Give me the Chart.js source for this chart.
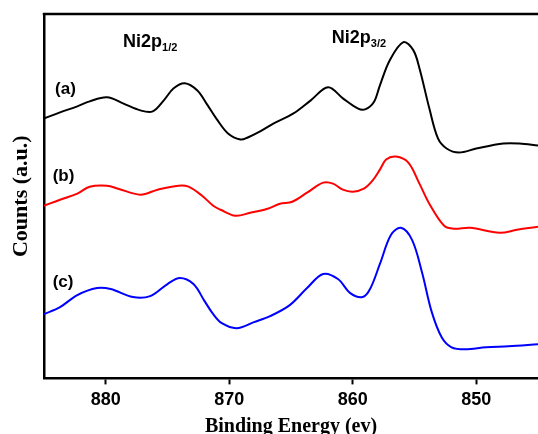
<!DOCTYPE html>
<html>
<head>
<meta charset="utf-8">
<script src="https://cdn.jsdelivr.net/npm/chart.js@4/dist/chart.umd.min.js"></script>
<style>
  html, body { margin: 0; padding: 0; background: #fff; }
  canvas { display: block; }
</style>
</head>
<body>
<canvas id="xps" width="538" height="434"></canvas>
<script>
// Ni 2p XPS spectra, binding energy in eV, intensity in arbitrary units (stacked)
const energyA = [885.0, 883.7, 882.3, 881.3, 879.9, 878.6, 877.2, 876.2, 875.3, 874.5, 873.6, 872.6, 871.8, 871.0, 870.1, 869.1, 868.5, 867.5, 866.4, 864.8, 863.4, 862.0, 860.8, 859.6, 859.0, 858.3, 857.8, 857.0, 855.9, 855.1, 854.6, 853.8, 853.1, 852.4, 851.4, 850.0, 847.8, 846.5, 845.0];
const countsA = [259, 265, 271, 276, 280, 274, 267, 266, 277, 289, 294, 287, 273, 258, 244, 238, 240, 246, 254, 264, 277, 290, 279, 269, 268, 275, 292, 317, 335, 327, 309, 269, 239, 229, 225, 229, 234, 234, 232];

const energyB = [885.0, 883.7, 882.3, 881.3, 879.9, 879.0, 877.2, 875.8, 874.1, 873.3, 872.2, 871.3, 870.7, 869.5, 868.3, 866.9, 865.9, 864.9, 863.7, 862.4, 861.6, 860.8, 860.0, 859.1, 858.4, 857.8, 857.3, 856.5, 855.5, 854.6, 853.8, 852.6, 851.8, 850.5, 848.1, 846.7, 845.0];
const countsB = [172, 178, 184, 191, 192, 189, 183, 188, 192, 191, 182, 172, 168, 162, 165, 169, 174, 176, 185, 195, 194, 188, 186, 189, 197, 208, 218, 221, 215, 194, 174, 152, 149, 150, 145, 148, 151];

const energyC = [885.0, 883.7, 882.3, 880.7, 879.6, 877.8, 876.4, 875.0, 874.0, 872.9, 872.0, 871.3, 870.6, 869.4, 868.0, 866.7, 865.1, 863.7, 862.4, 861.2, 860.2, 859.2, 858.6, 857.8, 856.9, 856.1, 855.2, 854.4, 853.6, 852.8, 852.0, 850.9, 849.2, 847.4, 845.0];
const countsC = [64, 71, 83, 90, 89, 81, 82, 94, 100, 94, 77, 64, 55, 50, 56, 62, 73, 90, 104, 99, 85, 81, 89, 114, 143, 150, 138, 106, 66, 41, 31, 29, 31, 32, 34];

const energyTicks = [880, 870, 860, 850];

// Curve tags and peak names, placed in data units
const curveTags = [
  { text: '(a)', x: 884.1, y: 288 },
  { text: '(b)', x: 884.3, y: 201 },
  { text: '(c)', x: 884.3, y: 96 }
];
const peakNames = [
  { main: 'Ni2p', sub: '1/2', x: 878.6, y: 330 },
  { main: 'Ni2p', sub: '3/2', x: 861.7, y: 334 }
];

function points(xs, ys) {
  return xs.map((x, i) => ({ x: x, y: ys[i] }));
}

const frameAndLabels = {
  id: 'frameAndLabels',
  afterDraw(chart) {
    const ctx = chart.ctx;
    const area = chart.chartArea;
    const xs = chart.scales.x, ys = chart.scales.y;
    ctx.save();
    // top frame line
    ctx.strokeStyle = '#000';
    ctx.lineWidth = 2.5;
    ctx.beginPath();
    ctx.moveTo(area.left - 1.25, area.top);
    ctx.lineTo(area.right, area.top);
    ctx.stroke();

    ctx.fillStyle = '#000';
    ctx.textBaseline = 'middle';
    ctx.textAlign = 'left';
    ctx.font = 'bold 17px "Liberation Sans", Arial, sans-serif';
    curveTags.forEach(t => {
      ctx.fillText(t.text, xs.getPixelForValue(t.x), ys.getPixelForValue(t.y));
    });

    ctx.textBaseline = 'alphabetic';
    peakNames.forEach(p => {
      const px = xs.getPixelForValue(p.x);
      const py = ys.getPixelForValue(p.y);
      ctx.font = 'bold 18px "Liberation Sans", Arial, sans-serif';
      ctx.fillText(p.main, px, py);
      const w = ctx.measureText(p.main).width;
      ctx.font = 'bold 11px "Liberation Sans", Arial, sans-serif';
      ctx.fillText(p.sub, px + w, py + 4);
    });
    ctx.restore();
  }
};

new Chart(document.getElementById('xps'), {
  type: 'scatter',
  data: {
    datasets: [
      { label: '(a)', data: points(energyA, countsA), borderColor: '#000000' },
      { label: '(b)', data: points(energyB, countsB), borderColor: '#ff0000' },
      { label: '(c)', data: points(energyC, countsC), borderColor: '#0000ff' }
    ].map(d => Object.assign(d, {
      showLine: true,
      borderWidth: 2,
      pointRadius: 0,
      pointHoverRadius: 0,
      tension: 0.35,
      fill: false
    }))
  },
  options: {
    responsive: false,
    devicePixelRatio: 1,
    animation: false,
    layout: { padding: { top: 14, right: 0, left: 0, bottom: -9 } },
    plugins: {
      legend: { display: false },
      tooltip: { enabled: false }
    },
    scales: {
      x: {
        type: 'linear',
        min: 845,
        max: 885,
        reverse: true,
        afterBuildTicks(axis) {
          axis.ticks = energyTicks.map(v => ({ value: v }));
        },
        grid: {
          display: true,
          drawOnChartArea: false,
          drawTicks: true,
          tickLength: 6,
          tickWidth: 2,
          tickColor: '#000'
        },
        border: { display: true, color: '#000', width: 2.5 },
        ticks: {
          color: '#000',
          padding: 5,
          font: { family: '"Liberation Sans", Arial, sans-serif', size: 18, weight: 'bold' },
          callback: v => String(v)
        },
        title: {
          display: true,
          text: 'Binding Energy (ev)',
          color: '#000',
          padding: { top: -1, bottom: 4 },
          font: { family: '"Liberation Serif", "Times New Roman", serif', size: 20, weight: 'bold' }
        }
      },
      y: {
        type: 'linear',
        min: 0,
        max: 363,
        grid: { display: false, drawTicks: false },
        border: { display: true, color: '#000', width: 2.5 },
        ticks: { display: false },
        title: {
          display: true,
          text: 'Counts (a.u.)',
          color: '#000',
          padding: { top: 8, bottom: 9.6 },
          font: { family: '"Liberation Serif", "Times New Roman", serif', size: 22, weight: 'bold' }
        }
      }
    }
  },
  plugins: [frameAndLabels]
});
</script>
</body>
</html>
